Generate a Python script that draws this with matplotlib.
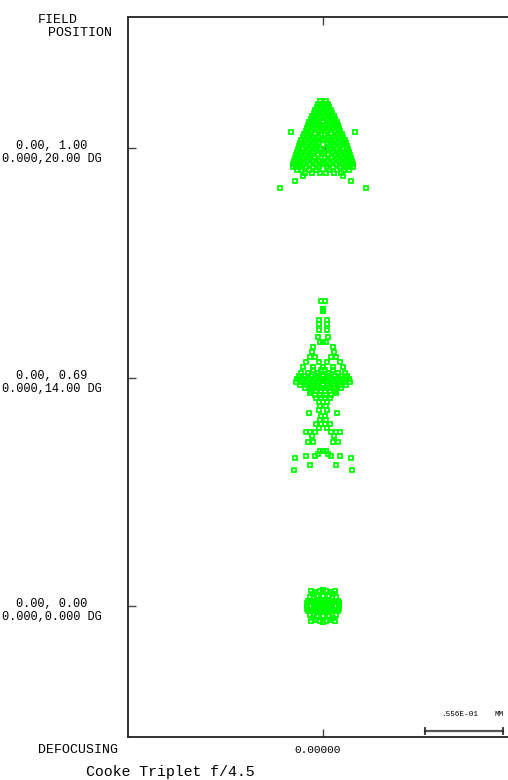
# -*- coding: utf-8 -*-
'''
spot diagram of a Cooke triplet, three field positions
'''
import matplotlib.pyplot as plt
import numpy as np

# field labels (relative field, angle)
field_rel = ["0.00, 1.00", "0.00, 0.69", "0.00, 0.00"]
field_ang = ["0.000,20.00 DG", "0.000,14.00 DG", "0.000,0.000 DG"]

# spot rows: (dy, [dx ...]) in micrometres,
# right half only, the spot is symmetric about the meridional plane
spot_f100 = [
    (33.5, [2.1]), (31.4, [1.4, 3.6]), (29.2, [0, 4.3]), (27.1, [2.1, 5.7]),
    (25.0, [0, 3.6, 6.4]), (22.8, [1.4, 5.0, 7.8]), (20.7, [2.9, 6.4, 8.6]),
    (18.5, [0, 4.3, 7.8, 10.0]), (16.4, [2.1, 5.7, 9.3, 10.7]),
    (14.3, [0.7, 4.3, 7.1, 11.4]), (12.1, [2.9, 8.6, 12.1]), (11.4, [22.8]),
    (10.0, [1.4, 5.7, 10.0, 13.5]), (7.8, [3.6, 7.1, 11.4, 14.3]),
    (5.7, [0.7, 5.0, 8.6, 12.8, 15.7]), (3.6, [2.9, 6.4, 10.7, 15.0, 16.4]),
    (1.4, [4.3, 7.8, 12.1, 17.1]), (-0.7, [2.1, 5.7, 10.0, 14.3, 17.8]),
    (-2.9, [0.7, 7.1, 11.4, 15.7, 18.5]), (-5.0, [3.6, 8.6, 12.8, 17.1, 19.3]),
    (-7.1, [1.4, 5.7, 10.0, 14.3, 17.8, 20.0]),
    (-9.3, [2.9, 7.1, 11.4, 15.7, 18.5, 20.7]),
    (-11.4, [0.7, 5.0, 9.3, 13.5, 17.1, 20.7, 21.4]),
    (-13.5, [2.9, 7.1, 12.1, 16.4, 19.3, 21.4]),
    (-15.7, [4.3, 10.0, 15.0, 18.5]), (-17.8, [2.1, 7.8, 12.8]),
    (-20.0, [14.3]), (-23.5, [20.0]), (-28.5, [30.7]),
]

spot_f069 = [
    (54.9, [1.4]), (49.2, [0]), (47.8, [0]), (41.4, [3.2]), (38.5, [2.9]),
    (34.2, [2.9]), (29.2, [3.6]), (25.7, [0, 2.1]), (22.1, [6.8]),
    (18.5, [7.8]), (15.0, [5.7, 9.3]), (11.4, [2.9, 12.1]),
    (7.8, [0, 7.1, 14.3]), (5.7, [1.4, 7.1]), (3.6, [3.6, 10.7, 15.7]),
    (1.4, [0, 4.3, 8.6, 12.8, 17.1]), (-0.7, [1.4, 5.7, 10.0, 14.3, 18.5]),
    (-2.9, [2.9, 7.1, 11.4, 15.7, 19.3]), (-5.0, [0, 3.6, 7.8, 12.1, 16.4]),
    (-7.1, [0.7, 4.3, 8.6, 12.8]), (-9.3, [1.4, 5.0, 9.3]), (-10.7, [9.3]),
    (-12.1, [2.1, 5.7]), (-14.3, [1.4, 4.8]), (-17.1, [0, 2.9]),
    (-20.0, [2.1]), (-22.8, [2.9]), (-25.0, [10.0]), (-27.1, [1.4]),
    (-29.9, [2.1]), (-32.8, [1.4, 5.0]), (-35.6, [2.9]),
    (-38.5, [5.7, 9.3, 12.1]), (-41.4, [7.8]), (-45.6, [7.1, 10.7]),
    (-52.0, [0, 2.1]), (-54.2, [3.6]), (-55.6, [5.7, 12.1]), (-57.0, [20.0]),
    (-62.0, [9.3]), (-65.6, [20.7]),
]

spot_f000 = [
    (11.4, [0]), (10.7, [2.1, 8.6]), (10.0, [5.7]), (8.6, [7.1]),
    (7.1, [0, 4.3]), (6.4, [9.3]), (5.7, [6.4]), (4.3, [0, 2.1, 4.3]),
    (3.6, [7.8, 10.7]), (2.1, [0, 2.1, 4.3, 6.4, 11.4]),
    (0.0, [0, 2.1, 4.3, 6.4, 8.6, 11.4]), (-2.1, [0, 2.1, 4.3, 6.4, 11.4]),
    (-3.6, [7.8, 10.7]), (-4.3, [0, 2.1, 4.3]), (-5.7, [6.4]), (-6.4, [9.3]),
    (-7.1, [0, 4.3]), (-8.6, [7.1]), (-10.0, [5.7]), (-10.7, [2.1, 8.6]),
    (-11.4, [0]),
]

spots = [spot_f100, spot_f069, spot_f000]
scale_um = 55.6  # scale bar, .556E-01 MM

# layout (micrometres on the plot)
row_y = [420.0, 256.0, 93.4]
FONT = 'Liberation Mono'
GREEN = '#00ff00'
W, H = 508, 780


def unfold(rows):
    xs, ys = [], []
    for dy, dxs in rows:
        for dx in dxs:
            xs += [dx, -dx]
            ys += [dy, dy]
    return np.array(xs), np.array(ys)


fig = plt.figure(figsize=(W / 100, H / 100), dpi=100)
ax = fig.add_axes([128 / W, 1 - 737 / H, 390 / W, 720 / H])
ax.set_xlim(-139, 139)
ax.set_ylim(0, 513.4)

for rows, y0 in zip(spots, row_y):
    xs, ys = unfold(rows)
    ax.plot([0], [y0], 's', ms=2.5, mfc='#333333', mec='#333333', zorder=1)
    ax.plot(xs, ys + y0, 's', ms=3.4, mfc='none', mec=GREEN, mew=1.3,
            ls='none', zorder=2)

for side in ['left', 'top', 'bottom', 'right']:
    ax.spines[side].set_linewidth(1.3)
    ax.spines[side].set_color('#222222')
ax.set_xticks([0])
ax.set_yticks(row_y)
ax.tick_params(direction='in', length=6, width=1.0, color='#444444',
               top=True, bottom=True, left=True, right=False,
               labelleft=False, labelbottom=False)

# scale bar
bar_x0, bar_y = 72.7, 4.3
ax.plot([bar_x0, bar_x0 + scale_um], [bar_y, bar_y], color='#555555', lw=1.6)
ax.plot([bar_x0, bar_x0 + scale_um], [bar_y, bar_y], '|', color='#222222',
        ms=6, mew=1.2)
ax.text(84.1, 16.4, '.556E-01', fontsize=5.5, family=FONT, va='center')
ax.text(122.6, 16.4, 'MM', fontsize=5.5, family=FONT, va='center')

# field labels
for lab1, lab2, y0 in zip(field_rel, field_ang, row_y):
    ax.annotate(lab1, xy=(52 / W, y0), xycoords=('figure fraction', 'data'),
                xytext=(0, -1), textcoords='offset pixels', ha='center',
                va='baseline', fontsize=8.6, family=FONT,
                annotation_clip=False)
    ax.annotate(lab2, xy=(52 / W, y0), xycoords=('figure fraction', 'data'),
                xytext=(0, -14), textcoords='offset pixels', ha='center',
                va='baseline', fontsize=8.6, family=FONT,
                annotation_clip=False)

fig.text(38 / W, 1 - 14 / H, 'FIELD', fontsize=9.5, family=FONT, va='top')
fig.text(48 / W, 1 - 27 / H, 'POSITION', fontsize=9.5, family=FONT, va='top')
fig.text(38 / W, 1 - 750 / H, 'DEFOCUSING', fontsize=9.5, family=FONT,
         va='center')
fig.text(318 / W, 1 - 750 / H, '0.00000', fontsize=8, family=FONT,
         va='center', ha='center')
fig.text(86 / W, 1 - 772 / H, 'Cooke Triplet f/4.5', fontsize=10.7,
         family=FONT, va='center')

fig.savefig('out.png', dpi=100)
